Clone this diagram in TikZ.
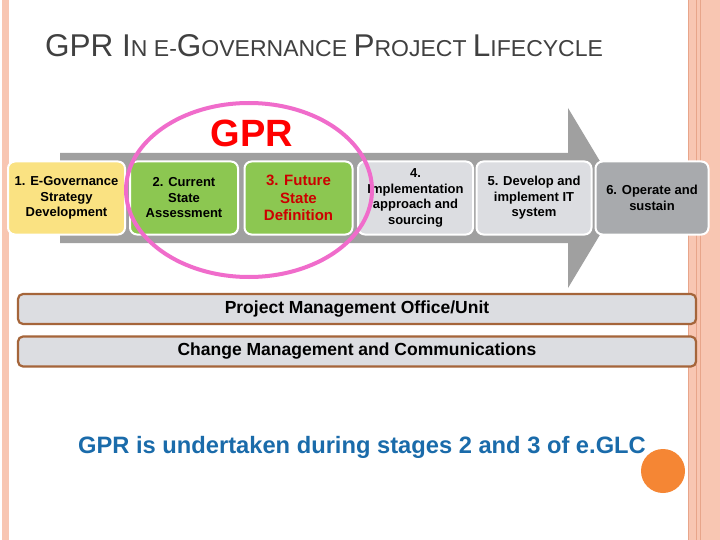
\documentclass[tikz,border=0pt]{standalone}
\usepackage{fontspec}
\setmainfont{Liberation Sans}
\definecolor{salmon}{HTML}{F8C6B2}
\definecolor{salmond}{HTML}{E8A58A}
\definecolor{arrowg}{HTML}{A0A0A0}
\definecolor{lightg}{HTML}{DCDDE1}
\definecolor{darkg}{HTML}{A8AAAD}
\definecolor{greenb}{HTML}{8CC751}
\definecolor{yellowb}{HTML}{FAE282}
\definecolor{pinkc}{HTML}{F06CCB}
\definecolor{brownc}{HTML}{A5653A}
\definecolor{bluet}{HTML}{1A6BAA}
\definecolor{orangec}{HTML}{F58634}
\definecolor{titleg}{HTML}{404040}
\begin{document}
\begin{tikzpicture}[x=1pt,y=-1pt,
  stage/.style={draw=white,line width=2pt,rounded corners=7pt,minimum height=73pt,align=center,font=\bfseries\fontsize{13}{15.5}\selectfont,inner sep=0pt},
  bar/.style={draw=brownc,line width=2.2pt,fill=lightg,rounded corners=5pt,minimum width=678pt,minimum height=30pt,font=\bfseries\fontsize{17.5}{20}\selectfont}]
\useasboundingbox (0,0) rectangle (720,540);
\fill[white] (0,0) rectangle (720,540);
\fill[salmon] (2,0) rectangle (9,540);
\fill[salmon] (688,0) rectangle (720,540);
\draw[salmond,line width=0.8pt] (688,0)--(688,540) (696,0)--(696,540) (700,0)--(700,540);
\node[anchor=base west,text=titleg,inner sep=0] (title) at (45,57)
 {\fontsize{31.5}{36}\selectfont GPR I\fontsize{23}{27}\selectfont N E-\fontsize{31.5}{36}\selectfont G\fontsize{23}{27}\selectfont OVERNANCE \fontsize{31.5}{36}\selectfont P\fontsize{23}{27}\selectfont ROJECT \fontsize{31.5}{36}\selectfont L\fontsize{23}{27}\selectfont IFECYCLE};
\fill[arrowg] (60,153) -- (568,153) -- (568,108) -- (622,198) -- (568,288) -- (568,243) -- (60,243) -- cycle;
\node[stage,fill=yellowb,minimum width=117pt] (s1) at (66.5,198) {1. E-Governance\\Strategy\\Development};
\node[stage,fill=greenb,minimum width=108pt] (s2) at (184,198) {2. Current\\State\\Assessment};
\node[stage,fill=greenb,minimum width=108pt,text=red!80!black,font=\bfseries\fontsize{15}{17.5}\selectfont] (s3) at (298.5,198) {3. Future\\State\\Definition};
\node[stage,fill=lightg,minimum width=115pt] (s4) at (415.5,198) {4.\\Implementation\\approach and\\sourcing};
\node[stage,fill=lightg,minimum width=115pt] (s5) at (534,198) {5. Develop and\\implement IT\\system};
\node[stage,fill=darkg,minimum width=113pt] (s6) at (652,198) {6. Operate and\\sustain};
\draw[pinkc,line width=4pt] (249,190) ellipse (123pt and 87pt);
\node[text=red,font=\bfseries\fontsize{38}{42}\selectfont] (gpr) at (252,133) {GPR};
\node[bar] (pmo) at (357,309) {Project Management Office/Unit};
\node[bar] (cm) at (357,351.5) {Change Management and Communications};
\node[text=bluet,font=\bfseries\fontsize{23.7}{27}\selectfont] (note) at (362,447) {GPR is undertaken during stages 2 and 3 of e.GLC};
\fill[orangec] (663,471) circle (22pt);
\end{tikzpicture}
\end{document}
